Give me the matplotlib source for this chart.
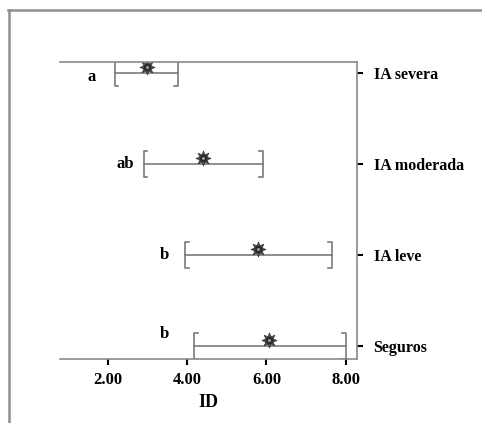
import numpy as np
import matplotlib.pyplot as plt
from matplotlib.lines import Line2D

groups = ['IA severa', 'IA moderada', 'IA leve', 'Seguros']
means = [2.98, 4.40, 5.78, 6.07]
lower = [2.18, 2.91, 3.95, 4.18]
upper = [3.77, 5.91, 7.64, 8.00]
letters = ['a', 'ab', 'b', 'b']
letter_x = [1.60, 2.44, 3.42, 3.42]
letter_dy = [0.04, 0.0, 0.0, -0.13]
xticks = [2.0, 4.0, 6.0, 8.0]

plt.rcParams['font.family'] = ['Liberation Serif', 'DejaVu Serif']
plt.rcParams['font.weight'] = 'bold'

fig = plt.figure(figsize=(4.82, 4.23), dpi=100)
ax = fig.add_axes([60/482, 1-359/423, 297/482, 297/423])

ypos = np.arange(len(groups))
gray = '#7a7a7a'
cap_h = 0.145
serif = 0.09
for i in range(len(groups)):
    y = ypos[i]
    ax.plot([lower[i], upper[i]], [y, y], color=gray, lw=1.2)
    # bracket style caps
    ax.plot([lower[i] + serif, lower[i], lower[i], lower[i] + serif],
            [y - cap_h, y - cap_h, y + cap_h, y + cap_h], color=gray, lw=1.2)
    ax.plot([upper[i] - serif, upper[i], upper[i], upper[i] - serif],
            [y - cap_h, y - cap_h, y + cap_h, y + cap_h], color=gray, lw=1.2)
    # mean symbol, drawn a bit above the line
    ax.plot(means[i], y - 0.065, marker=(8, 1, 0), ms=11, color='#3a3a3a', mec='#3a3a3a', mew=0.5)
    ax.plot(means[i], y - 0.065, marker='o', ms=6.5, color='#2a2a2a', mec='#555555', mew=0.8)
    ax.plot(means[i], y - 0.065, marker='o', ms=2.2, color='#9a9a9a', mew=0)
    ax.text(letter_x[i], y + letter_dy[i], letters[i], ha='center', va='center',
            fontsize=12, fontweight='bold')

ax.set_xlim(0.80, 8.28)
ax.set_ylim(3.14, -0.12)
ax.set_xticks(xticks)
ax.set_xticklabels([f'{v:.2f}' for v in xticks])
ax.set_yticks(ypos)
ax.set_yticklabels(groups)
ax.yaxis.tick_right()
ax.tick_params(axis='x', direction='out', length=4, width=1.5, color='black', pad=5, labelsize=12)
ax.tick_params(axis='y', direction='out', length=4, width=1.5, color='black', pad=8, labelsize=11.5)
for lab in ax.get_xticklabels() + ax.get_yticklabels():
    lab.set_fontweight('bold')
ax.set_xlabel('ID', fontsize=13, fontweight='bold', labelpad=5)

ax.spines['left'].set_visible(False)
for s in ['top', 'right', 'bottom']:
    ax.spines[s].set_color('#8a8a8a')
    ax.spines[s].set_linewidth(1.2)

# page frame of the screenshot
fig.add_artist(Line2D([8.5/482, 8.5/482], [0, 1-10/423], color='#8f8f8f', lw=1.8))
fig.add_artist(Line2D([8/482, 1], [1-10.5/423, 1-10.5/423], color='#8f8f8f', lw=1.8))

fig.savefig('out.png', dpi=100)
